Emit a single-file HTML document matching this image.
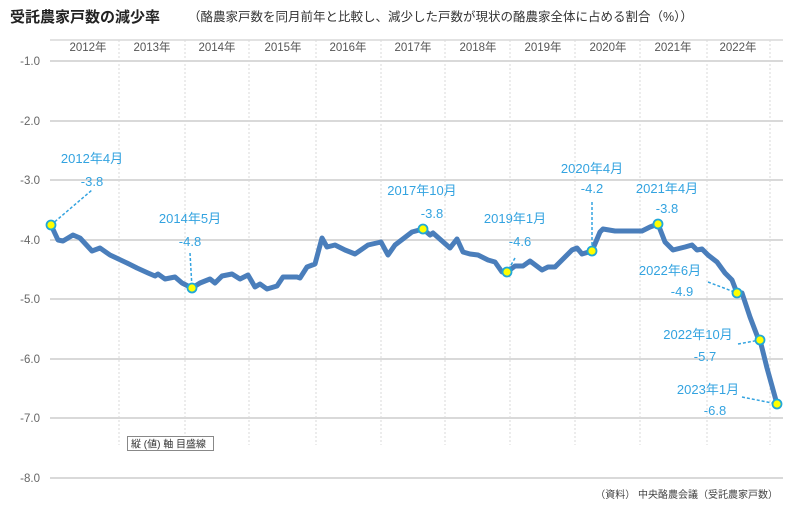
<!DOCTYPE html>
<html><head><meta charset="utf-8"><style>
body{margin:0;background:#fff;width:800px;height:504px;overflow:hidden}
svg text{font-family:"Liberation Sans","Noto Sans CJK JP",sans-serif}
</style></head><body>
<svg width="800" height="504" viewBox="0 0 800 504" xmlns="http://www.w3.org/2000/svg">
<text x="10" y="22" font-size="15" font-weight="bold" fill="#222">受託農家戸数の減少率</text>
<text x="188" y="21" font-size="12.5" fill="#333">（酪農家戸数を同月前年と比較し、減少した戸数が現状の酪農家全体に占める割合（%））</text>
<line x1="50" y1="40" x2="783" y2="40" stroke="#d9d9d9" stroke-width="1.5"/>
<g stroke="#d9d9d9" stroke-width="1" stroke-dasharray="2,2">
<line x1="119" y1="40" x2="119" y2="445"/><line x1="185" y1="40" x2="185" y2="445"/><line x1="249" y1="40" x2="249" y2="445"/><line x1="316" y1="40" x2="316" y2="445"/><line x1="381" y1="40" x2="381" y2="445"/><line x1="445" y1="40" x2="445" y2="445"/><line x1="510" y1="40" x2="510" y2="445"/><line x1="575" y1="40" x2="575" y2="445"/><line x1="640" y1="40" x2="640" y2="445"/><line x1="707" y1="40" x2="707" y2="445"/><line x1="770" y1="40" x2="770" y2="445"/>
</g>
<g font-size="11.5" fill="#555" text-anchor="middle">
<text x="88" y="51">2012年</text><text x="152" y="51">2013年</text><text x="217" y="51">2014年</text><text x="283" y="51">2015年</text><text x="348" y="51">2016年</text><text x="413" y="51">2017年</text><text x="478" y="51">2018年</text><text x="543" y="51">2019年</text><text x="608" y="51">2020年</text><text x="673" y="51">2021年</text><text x="738" y="51">2022年</text>
</g>
<g stroke="#d9d9d9" stroke-width="2">
<line x1="50" y1="61" x2="783" y2="61"/><line x1="50" y1="121" x2="783" y2="121"/><line x1="50" y1="180" x2="783" y2="180"/><line x1="50" y1="240" x2="783" y2="240"/><line x1="50" y1="299" x2="783" y2="299"/><line x1="50" y1="359" x2="783" y2="359"/><line x1="50" y1="418" x2="783" y2="418"/><line x1="50" y1="478" x2="783" y2="478"/>
</g>
<g font-size="11.5" fill="#666" text-anchor="end">
<text x="40" y="65">-1.0</text><text x="40" y="125">-2.0</text><text x="40" y="184">-3.0</text><text x="40" y="244">-4.0</text><text x="40" y="303">-5.0</text><text x="40" y="363">-6.0</text><text x="40" y="422">-7.0</text><text x="40" y="482">-8.0</text>
</g>
<polyline fill="none" stroke="#4a7ebb" stroke-width="5" stroke-linejoin="round" stroke-linecap="round" points="51,225 58,240 63,241 73,235 80,238 92,251 100,248 110,255 127,263 137,268 148,273 155,276 158,274 165,279 175,277 182,283 192,288 200,283 210,279 215,283 222,276 232,274 240,279 248,275 255,287 260,284 267,289 277,286 283,277 297,277 300,278 307,267 315,264 322,238 327,247 335,245 345,250 355,254 368,245 381,242 388,255 395,245 412,232 423,229 430,235 433,233 450,248 457,239 463,252 470,254 478,255 488,260 495,262 502,272 507,272 515,266 523,266 530,261 542,270 548,267 555,267 562,260 572,250 577,248 582,254 592,251 600,232 603,229 615,231 642,231 650,227 658,224 665,242 673,250 685,247 692,245 697,250 702,249 708,255 717,262 725,273 732,280 737,293 742,293 750,317 758,338 760,340 767,368 777,404"/>
<g stroke="#33a3e0" stroke-width="1.5" stroke-dasharray="3,2" fill="none">
<line x1="51" y1="225" x2="92" y2="190"/>
<line x1="190" y1="253" x2="192" y2="288"/>
<line x1="515" y1="258" x2="507" y2="272"/>
<line x1="592" y1="202" x2="592" y2="250"/>
<line x1="708" y1="282" x2="737" y2="293"/>
<line x1="738" y1="344" x2="760" y2="340"/>
<line x1="742" y1="397" x2="777" y2="404"/>
</g>
<g fill="#ffff00" stroke="#20a8d8" stroke-width="1.8">
<circle cx="51" cy="225" r="4.5"/><circle cx="192" cy="288" r="4.5"/><circle cx="423" cy="229" r="4.5"/><circle cx="507" cy="272" r="4.5"/><circle cx="592" cy="251" r="4.5"/><circle cx="658" cy="224" r="4.5"/><circle cx="737" cy="293" r="4.5"/><circle cx="760" cy="340" r="4.5"/><circle cx="777" cy="404" r="4.5"/>
</g>
<g font-size="13" fill="#33a3e0" text-anchor="middle">
<text x="92" y="163">2012年4月</text><text x="92" y="186">-3.8</text>
<text x="190" y="223">2014年5月</text><text x="190" y="246">-4.8</text>
<text x="422" y="195">2017年10月</text><text x="432" y="218">-3.8</text>
<text x="515" y="223">2019年1月</text><text x="520" y="246">-4.6</text>
<text x="592" y="173">2020年4月</text><text x="592" y="193">-4.2</text>
<text x="667" y="193">2021年4月</text><text x="667" y="213">-3.8</text>
<text x="670" y="275">2022年6月</text><text x="682" y="296">-4.9</text>
<text x="698" y="339">2022年10月</text><text x="705" y="361">-5.7</text>
<text x="708" y="394">2023年1月</text><text x="715" y="415">-6.8</text>
</g>
<rect x="127.5" y="436.5" width="86" height="14" fill="#fff" stroke="#888"/>
<text x="131" y="447.5" font-size="10" fill="#333">縦 (値) 軸 目盛線</text>
<text x="778" y="498" font-size="10" fill="#444" text-anchor="end">（資料） 中央酪農会議（受託農家戸数）</text>
</svg>
</body></html>
